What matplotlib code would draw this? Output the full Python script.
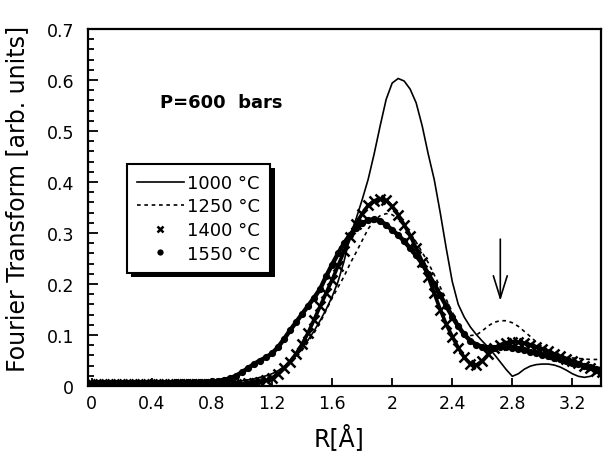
import numpy as np
import matplotlib
matplotlib.use("Agg")
import matplotlib.pyplot as plt
from matplotlib.patches import Rectangle
from matplotlib.transforms import IdentityTransform
from matplotlib.ticker import MultipleLocator, FormatStrFormatter

plt.rcParams['font.family'] = ['DejaVu Sans']

# R grid [Angstrom]
R = np.round(np.arange(0, 3.41, 0.04), 2)

labels = ["1000 °C", "1250 °C", "1400 °C", "1550 °C"]

T1000 = [0.004, 0.004, 0.005, 0.004, 0.004, 0.005, 0.005, 0.004, 0.005, 0.005, 0.005,
         0.004, 0.005, 0.005, 0.005, 0.005, 0.006, 0.005, 0.005, 0.006, 0.006,
         0.006, 0.007, 0.008, 0.009, 0.010, 0.012, 0.014, 0.017, 0.020, 0.024,
         0.030, 0.038, 0.048, 0.060, 0.074, 0.090, 0.108, 0.128, 0.150, 0.175,
         0.205, 0.245, 0.295, 0.328, 0.365, 0.405, 0.455, 0.510, 0.562, 0.594,
         0.603, 0.598, 0.582, 0.555, 0.510, 0.455, 0.405, 0.340, 0.270, 0.205,
         0.160, 0.135, 0.116, 0.101, 0.088, 0.076, 0.062, 0.047, 0.032, 0.019,
         0.024, 0.033, 0.039, 0.042, 0.043, 0.043, 0.041, 0.037, 0.031, 0.024,
         0.019, 0.017, 0.019, 0.025, 0.032]

T1250 = [0.005, 0.005, 0.005, 0.005, 0.005, 0.005, 0.005, 0.005, 0.005, 0.005, 0.005,
         0.005, 0.005, 0.005, 0.005, 0.005, 0.005, 0.005, 0.005, 0.005, 0.005,
         0.005, 0.006, 0.006, 0.007, 0.008, 0.009, 0.011, 0.013, 0.016, 0.020,
         0.026, 0.034, 0.044, 0.056, 0.070, 0.086, 0.104, 0.124, 0.148, 0.172,
         0.194, 0.215, 0.240, 0.262, 0.285, 0.308, 0.324, 0.334, 0.338, 0.336,
         0.328, 0.316, 0.300, 0.282, 0.262, 0.242, 0.218, 0.194, 0.170, 0.145,
         0.122, 0.106, 0.099, 0.100, 0.108, 0.118, 0.125, 0.128, 0.128, 0.124,
         0.117, 0.107, 0.097, 0.086, 0.077, 0.069, 0.063, 0.059, 0.056, 0.055,
         0.054, 0.053, 0.052, 0.052, 0.053]

T1400 = [0.003, 0.003, 0.003, 0.003, 0.003, 0.003, 0.003, 0.003, 0.003, 0.003, 0.003,
         0.003, 0.003, 0.003, 0.003, 0.003, 0.003, 0.003, 0.003, 0.003, 0.003,
         0.003, 0.003, 0.003, 0.004, 0.004, 0.005, 0.006, 0.008, 0.011, 0.016,
         0.023, 0.035, 0.048, 0.063, 0.082, 0.104, 0.130, 0.156, 0.182, 0.208,
         0.236, 0.264, 0.292, 0.318, 0.338, 0.354, 0.363, 0.367, 0.364, 0.352,
         0.336, 0.316, 0.295, 0.270, 0.244, 0.214, 0.182, 0.150, 0.121, 0.097,
         0.075, 0.056, 0.044, 0.041, 0.049, 0.062, 0.074, 0.081, 0.085, 0.087,
         0.086, 0.084, 0.081, 0.077, 0.073, 0.068, 0.063, 0.058, 0.053, 0.049,
         0.045, 0.040, 0.035, 0.030, 0.027]

T1550 = [0.005, 0.005, 0.005, 0.005, 0.005, 0.005, 0.005, 0.005, 0.005, 0.005, 0.006,
         0.006, 0.006, 0.006, 0.007, 0.007, 0.007, 0.007, 0.008, 0.008, 0.009,
         0.010, 0.012, 0.015, 0.020, 0.027, 0.035, 0.043, 0.050, 0.056, 0.064,
         0.076, 0.092, 0.109, 0.125, 0.141, 0.157, 0.173, 0.190, 0.215, 0.238,
         0.260, 0.280, 0.297, 0.310, 0.319, 0.325, 0.327, 0.324, 0.316, 0.306,
         0.296, 0.284, 0.270, 0.256, 0.240, 0.220, 0.200, 0.178, 0.157, 0.136,
         0.117, 0.101, 0.089, 0.081, 0.077, 0.075, 0.075, 0.076, 0.076, 0.075,
         0.073, 0.070, 0.067, 0.064, 0.061, 0.058, 0.055, 0.052, 0.049, 0.046,
         0.043, 0.040, 0.037, 0.034, 0.032]

arrow_x = 2.72
arrow_from = 0.288
arrow_to = 0.167

fig = plt.figure(figsize=(6.07, 4.52), dpi=100)
ax = fig.add_axes([0.145, 0.1438, 0.845, 0.7898])
ax.patch.set_visible(False)

ax.plot(R, T1000, color='black', lw=1.2, label=labels[0], zorder=3)
ax.plot(R, T1250, color='black', lw=1.2, ls=(0, (2.2, 2.2)), label=labels[1], zorder=3)
ax.plot(R, T1400, color='black', lw=2.6, ls='-', marker='x', ms=6.5, mew=1.8,
        zorder=2)
ax.plot(R, T1550, color='black', lw=3.2, ls='-', marker='o', ms=5.2, mew=0,
        zorder=2)
# legend proxies for marker series
h3, = ax.plot([], [], color='black', ls='none', marker='x', ms=5, mew=1.8, label=labels[2])
h4, = ax.plot([], [], color='black', ls='none', marker='o', ms=4.5, mew=0, label=labels[3])

ax.set_xlim(-0.025, 3.39)
ax.set_ylim(0, 0.7)
ax.xaxis.set_major_locator(MultipleLocator(0.4))
ax.yaxis.set_major_locator(MultipleLocator(0.1))
ax.yaxis.set_minor_locator(MultipleLocator(0.02))
ax.xaxis.set_major_formatter(FormatStrFormatter('%g'))
ax.yaxis.set_major_formatter(FormatStrFormatter('%g'))
ax.tick_params(axis='both', which='both', direction='in', top=False, right=False,
               labelsize=12.5, width=1.3)
ax.tick_params(axis='y', which='major', length=7, pad=10)
ax.tick_params(axis='y', which='minor', length=4)
ax.tick_params(axis='x', which='major', length=6, pad=6)
for s in ax.spines.values():
    s.set_linewidth(1.6)

fig.text(0.028, 0.56, "Fourier Transform [arb. units]", rotation=90,
         ha='center', va='center', fontsize=17)
fig.text(0.559, 0.031, "R[Å]", ha='center', va='center', fontsize=17)

ax.text(0.14, 0.795, "P=600  bars", transform=ax.transAxes, fontsize=13,
        fontweight='bold', ha='left', va='center')

ax.annotate('', xy=(arrow_x, arrow_to), xytext=(arrow_x, arrow_from),
            arrowprops=dict(arrowstyle='->,head_length=0.8,head_width=0.25',
                            lw=1.2, color='black', mutation_scale=20,
                            shrinkA=0, shrinkB=0))

handles, labs = ax.get_legend_handles_labels()
leg = ax.legend(handles, labs, loc='upper left', bbox_to_anchor=(0.0755, 0.622),
                borderaxespad=0, frameon=True, fancybox=False, fontsize=13,
                handlelength=2.6, handletextpad=0.2, labelspacing=0.31,
                borderpad=0.55, numpoints=1, markerfirst=True,
                framealpha=1.0, facecolor='white')
leg.get_frame().set_edgecolor('black')
leg.get_frame().set_linewidth(1.5)
leg.set_zorder(10)

fig.canvas.draw()
bb = leg.get_window_extent()
shadow = Rectangle((bb.x0 + 4.5, bb.y0 - 4.5), bb.width, bb.height,
                   transform=IdentityTransform(), facecolor='black',
                   edgecolor='none', zorder=9)
ax.add_artist(shadow)

fig.savefig("out.png", dpi=100)
